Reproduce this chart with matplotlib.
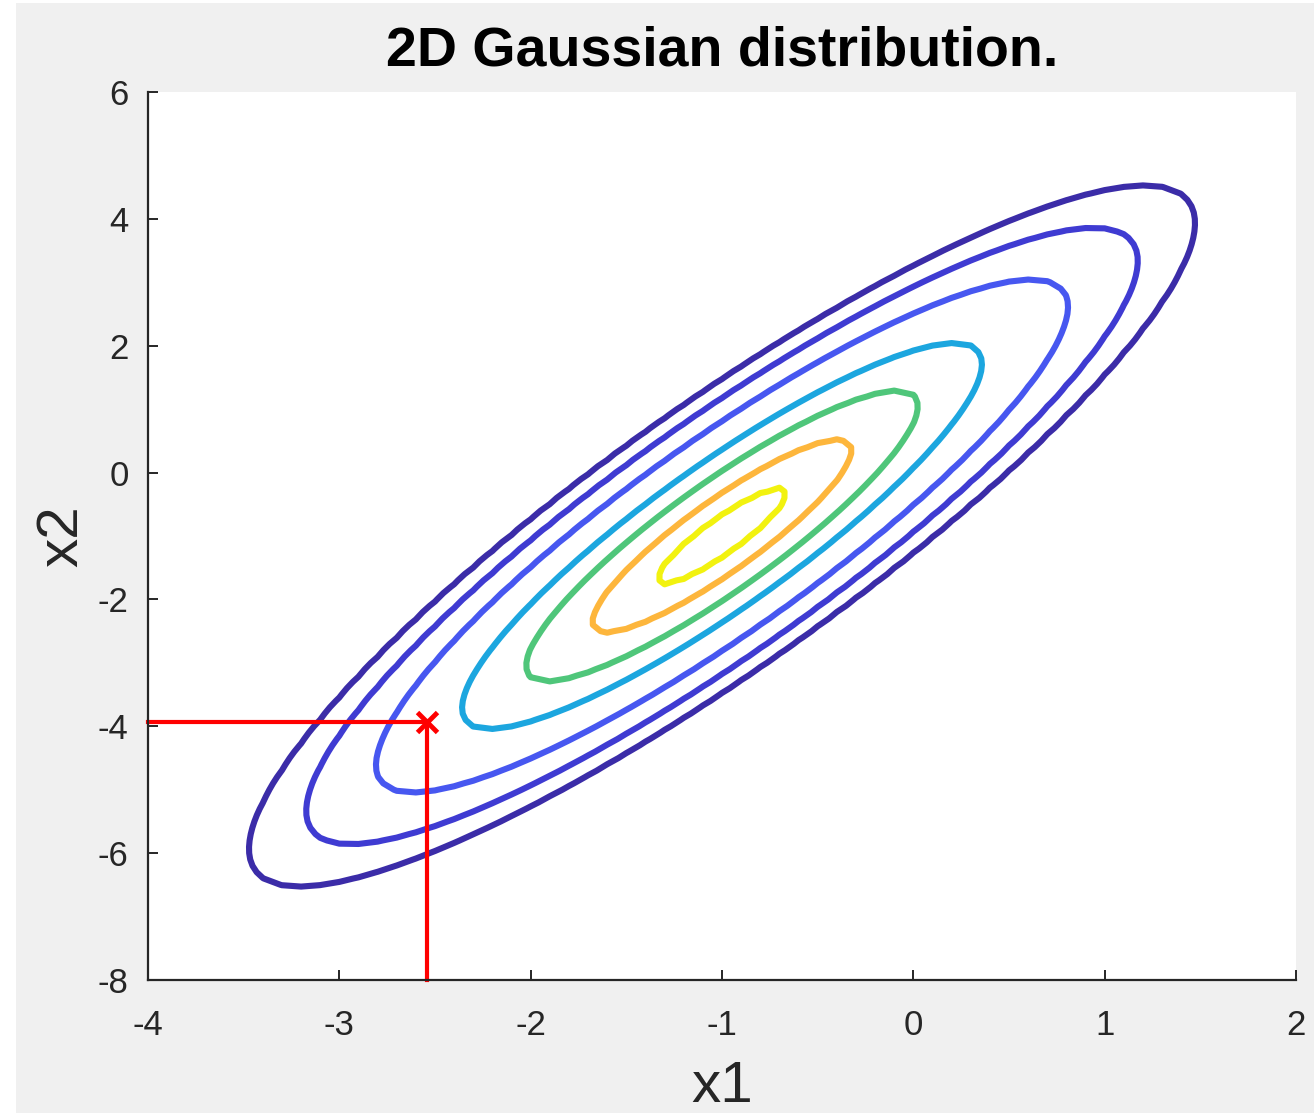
import numpy as np
import matplotlib
matplotlib.use("Agg")
import matplotlib.pyplot as plt
from matplotlib.patches import Rectangle

plt.rcParams["axes.unicode_minus"] = False

# Distribution parameters
mu = [-1.0, -1.0]
sigma = [[1.0, 2.0],
         [2.0, 5.0]]

# Density levels drawn as contours, outermost first
levels = [0.0075, 0.015, 0.031, 0.063, 0.094, 0.126, 0.150]
level_colors = ["#3b2ca8", "#3f3bd2", "#4757f0", "#1ca6df",
                "#4fc67a", "#fdb63c", "#f2f20f"]

# Highlighted sample point and axis ranges
point = (-2.54, -3.93)
xlim = (-4, 2)
ylim = (-8, 6)
xticks = [-4, -3, -2, -1, 0, 1, 2]
yticks = [-8, -6, -4, -2, 0, 2, 4, 6]

W, H = 1314, 1113
fig = plt.figure(figsize=(W / 100, H / 100), dpi=100, facecolor="white")
fig.patches.append(Rectangle((16 / W, 0), 1 - 16 / W, (H - 3) / H,
                             transform=fig.transFigure, facecolor="#f0f0f0",
                             edgecolor="none", zorder=-10))

ax = fig.add_axes([148 / W, 133 / H, (1296 - 148) / W, (980 - 92) / H])
ax.set_facecolor("white")

# Evaluate the Gaussian density on a coarse grid
gx = np.arange(xlim[0], xlim[1] + 1e-9, 0.1)
gy = np.arange(ylim[0], ylim[1] + 1e-9, 0.1)
X, Y = np.meshgrid(gx, gy)
S = np.array(sigma)
Sinv = np.linalg.inv(S)
dx = X - mu[0]
dy = Y - mu[1]
q = Sinv[0, 0] * dx * dx + 2 * Sinv[0, 1] * dx * dy + Sinv[1, 1] * dy * dy
Z = np.exp(-0.5 * q) / (2 * np.pi * np.sqrt(np.linalg.det(S)))

ax.contour(X, Y, Z, levels=levels, colors=level_colors, linewidths=4.4)

# Marked point with projections onto both axes
red = "#ff0000"
ax.plot([xlim[0], point[0]], [point[1], point[1]], color=red, lw=3, clip_on=False)
ax.plot([point[0], point[0]], [ylim[0], point[1]], color=red, lw=3, clip_on=False)
ax.plot([point[0]], [point[1]], marker="x", color=red, markersize=14,
        markeredgewidth=3.5, linestyle="none")

ax.set_xlim(*xlim)
ax.set_ylim(*ylim)
ax.set_xticks(xticks)
ax.set_yticks(yticks)

font = "Liberation Sans"
spine_c = "#262626"
for s in ("top", "right"):
    ax.spines[s].set_visible(False)
for s in ("left", "bottom"):
    ax.spines[s].set_color(spine_c)
    ax.spines[s].set_linewidth(1.6)

ax.tick_params(direction="in", length=7, width=1.4, color=spine_c,
               labelcolor=spine_c, labelsize=25)
ax.tick_params(axis="x", pad=21)
ax.tick_params(axis="y", pad=14)
for lab in ax.get_xticklabels() + ax.get_yticklabels():
    lab.set_fontfamily(font)

ax.set_xlabel("x1", fontsize=42, family=font, color=spine_c, labelpad=13)
ax.set_ylabel("x2", fontsize=42, family=font, color=spine_c, labelpad=6)
ax.set_title("2D Gaussian distribution.", fontsize=40, fontweight="bold",
             family=font, color="black", pad=19)

fig.savefig("out.png", dpi=100, facecolor=fig.get_facecolor())
